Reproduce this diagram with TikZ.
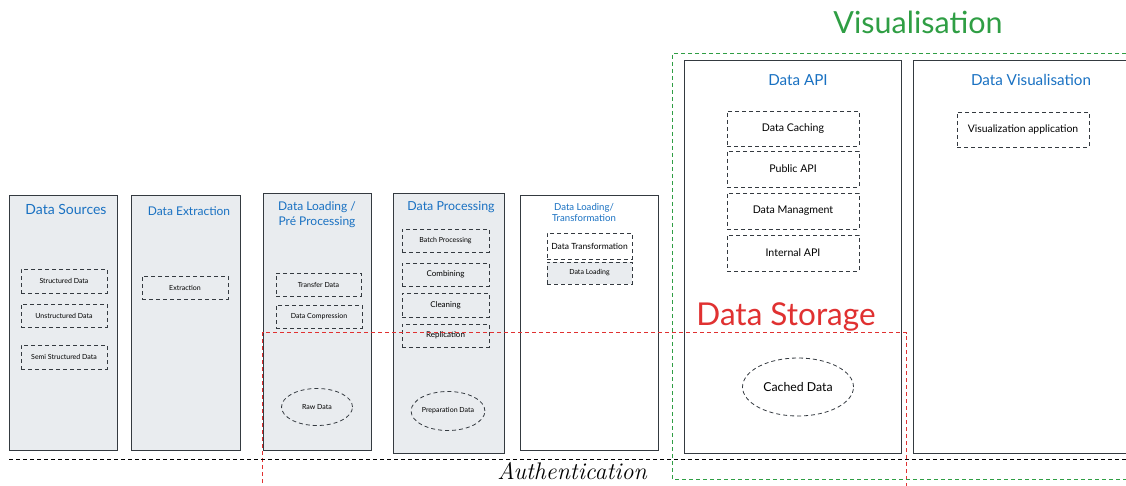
\documentclass[tikz,border=0pt]{standalone}
\usepackage{fontspec}
\setsansfont{Lato}
\usetikzlibrary{shapes.geometric}
\definecolor{paneFill}{HTML}{E9ECEF}
\definecolor{titleBlue}{HTML}{1971C2}
\definecolor{storeRed}{HTML}{E03131}
\definecolor{visGreen}{HTML}{2F9E44}
\definecolor{lineGray}{HTML}{343A40}
\tikzset{
  pane/.style={draw=lineGray, line width=0.9pt, rectangle, inner sep=0pt},
  panetitle/.style={text=titleBlue, font=\sffamily\fontsize{12}{15}\selectfont, align=center},
  part/.style={draw=lineGray, dashed, dash pattern=on 4pt off 3pt, line width=0.8pt,
    rectangle, inner sep=0pt, font=\sffamily\fontsize{7}{8}\selectfont},
  bigpart/.style={part, font=\sffamily\fontsize{10.6}{12}\selectfont},
  store/.style={draw=lineGray, dash pattern=on 4pt off 3pt, line width=0.8pt, ellipse, inner sep=0pt,
    font=\sffamily\fontsize{7}{8}\selectfont},
  zone/.style={dash pattern=on 4pt off 3pt, line width=1pt},
}
\begin{document}
\begin{tikzpicture}[x=1pt, y=-1pt]
  \useasboundingbox (0,0) rectangle (1126,486);

  % stage panes
  \node[pane, fill=paneFill, minimum width=108, minimum height=255] (src) at (63,322.5) {};
  \node[pane, fill=paneFill, minimum width=109, minimum height=255] (extr) at (185.5,322.5) {};
  \node[pane, fill=paneFill, minimum width=108, minimum height=257] (load) at (317,321.5) {};
  \node[pane, fill=paneFill, minimum width=111, minimum height=260] (proc) at (448.5,323) {};
  \node[pane, fill=white, minimum width=138, minimum height=255] (trans) at (589,322.5) {};
  \node[pane, fill=white, minimum width=217, minimum height=393] (api) at (792.5,256.5) {};
  \draw[draw=lineGray, line width=0.9pt] (1140,60) -- (913,60) -- (913,453) -- (1140,453);

  % pane titles
  \node[panetitle, font=\sffamily\fontsize{14}{16}\selectfont] (srcT) at (66,209) {Data Sources};
  \node[panetitle] (extrT) at (189,211) {Data Extraction};
  \node[panetitle] (loadT) at (317,215) {Data Loading /\\Pré Processing};
  \node[panetitle, font=\sffamily\fontsize{12.4}{15}\selectfont] (procT) at (451,207) {Data Processing};
  \node[panetitle, font=\sffamily\fontsize{9.6}{11.5}\selectfont] (transT) at (584,212.5) {Data Loading/\\Transformation};
  \node[panetitle, font=\sffamily\fontsize{15.2}{18}\selectfont] (apiT) at (798,80) {Data API};
  \node[panetitle, font=\sffamily\fontsize{15.2}{18}\selectfont] (visT) at (1031,80) {Data Visualisation};

  % Data Sources
  \node[part, minimum width=86, minimum height=24] (structured) at (64,281) {Structured Data};
  \node[part, minimum width=86, minimum height=23] (unstructured) at (64,315.5) {Unstructured Data};
  \node[part, minimum width=86, minimum height=24] (semi) at (64,357) {Semi Structured Data};
  % Data Extraction
  \node[part, minimum width=86, minimum height=23] (extraction) at (185,287.5) {Extraction};
  % Data Loading / Pre Processing
  \node[part, minimum width=85, minimum height=23] (transfer) at (318.5,284.5) {Transfer Data};
  \node[part, minimum width=86, minimum height=23] (compress) at (319,316.5) {Data Compression};
  \node[store, minimum width=71, minimum height=37] (raw) at (317,407) {Raw Data};
  % Data Processing
  \node[part, minimum width=87, minimum height=23] (batch) at (445.5,240.5) {Batch Processing};
  \node[part, minimum width=87, minimum height=23, font=\sffamily\fontsize{8}{10}\selectfont] (combine) at (445.5,274.5) {Combining};
  \node[part, minimum width=87, minimum height=24, font=\sffamily\fontsize{8}{10}\selectfont] (clean) at (445.5,305) {Cleaning};
  \node[part, minimum width=87, minimum height=23, font=\sffamily\fontsize{8}{10}\selectfont] (replic) at (445.5,335.5) {Replication};
  \node[store, minimum width=73, minimum height=39] (prep) at (448,411) {Preparation Data};
  % Data Loading / Transformation
  \node[part, fill=white, minimum width=85, minimum height=26, font=\sffamily\fontsize{8.5}{10}\selectfont] (transform) at (589.5,246) {Data Transformation};
  \node[part, fill=paneFill, minimum width=85, minimum height=22] (loading) at (589.5,273) {Data Loading};
  % Data API
  \node[bigpart, minimum width=132, minimum height=35] (caching) at (793,128.5) {Data Caching};
  \node[bigpart, minimum width=132, minimum height=36] (public) at (793,169) {Public API};
  \node[bigpart, minimum width=132, minimum height=36] (manage) at (793,211) {Data Managment};
  \node[bigpart, minimum width=132, minimum height=36] (internal) at (793,253) {Internal API};
  \node[store, minimum width=111, minimum height=58, font=\sffamily\fontsize{12.3}{14}\selectfont] (cached) at (798,387) {Cached Data};
  % Data Visualisation
  \node[bigpart, minimum width=132, minimum height=35, font=\sffamily\fontsize{10.4}{12}\selectfont] (visapp) at (1023,129.5) {Visualization application};

  % zones
  \draw[zone, storeRed] (262.5,490) -- (262.5,332.5) -- (906.5,332.5) -- (906.5,490);
  \node[text=storeRed, font=\sffamily\fontsize{31.5}{36}\selectfont] (storeT) at (786,317) {Data Storage};
  \draw[zone, visGreen] (1140,53.5) -- (672.5,53.5) -- (672.5,479.5) -- (1140,479.5);
  \node[text=visGreen, font=\sffamily\fontsize{30.5}{35}\selectfont] (visZoneT) at (918,22) {Visualisation};
  \draw[zone, black, line width=0.8pt] (9,459.5) -- (1140,459.5);
  \node[font=\itshape\fontsize{24}{28}\selectfont] (authT) at (572,471) {Authentication};
\end{tikzpicture}
\end{document}
